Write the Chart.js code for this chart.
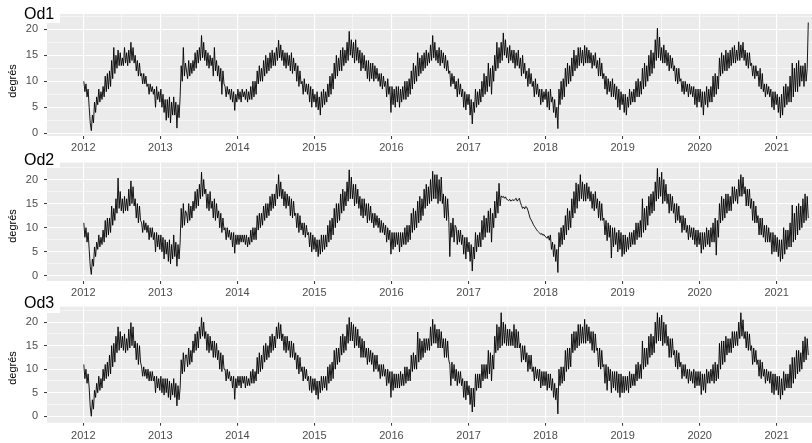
<!DOCTYPE html>
<html>
<head>
<meta charset="utf-8">
<script src="https://cdn.jsdelivr.net/npm/chart.js@4/dist/chart.umd.min.js"></script>
<style>
  html, body { margin: 0; padding: 0; background: #fff; width: 812px; height: 443px; overflow: hidden; }
  canvas { position: absolute; left: 0; }
  .box { position: absolute; left: 0; width: 60px; background: #fff; z-index: 2; }
  .ttl { position: absolute; left: 24px; font: 16px "Liberation Sans", Arial, sans-serif; line-height: 16px; color: #000; z-index: 3; white-space: nowrap; }
  .ylab { position: absolute; font: 11px "Liberation Sans", Arial, sans-serif; line-height: 11px; color: #000; white-space: nowrap;
          transform: translate(-50%, -50%) rotate(-90deg); z-index: 3; }
</style>
</head>
<body>
<canvas id="c1" width="812" height="154" style="top:0px"></canvas>
<canvas id="c2" width="812" height="149" style="top:150px"></canvas>
<canvas id="c3" width="812" height="149" style="top:294px"></canvas>

<div class="box" style="top:0px;height:23px"></div>
<div class="box" style="top:151px;height:17px"></div>
<div class="box" style="top:295px;height:18px"></div>
<div class="ttl" style="top:6px">Od1</div>
<div class="ttl" style="top:151.5px">Od2</div>
<div class="ttl" style="top:294.5px">Od3</div>
<div class="ylab" style="left:12px;top:81px">degrés</div>
<div class="ylab" style="left:12px;top:226px">degrés</div>
<div class="ylab" style="left:12px;top:368px">degrés</div>

<script>
// Water temperature (°C), six readings per month from January 2012 to May 2021.
const od1 = [
  /* 2012 */ 10,8,9.5,7,8.5,5, 2,0.5,3.5,2,6,4, 7,5.5,8.5,6,8,6.5, 9,7,11,8,11.5,8.5, 12,9,14,10.5,16.5,11.5, 15,12.5,16,13,15.5,13,
             14.5,13,16.5,13.5,15.5,13, 16,13.5,17.5,14,16.5,13.5, 15,12,14,11,13.5,11, 11.5,9.5,11.5,9.5,11,9, 9.5,7.5,9.5,8,9,7.5, 8.5,5,9,6.5,8,6,
  /* 2013 */ 8.5,5,7.5,4,6.5,2.5, 6.5,3,7,2,6,3.5, 7,3.5,6,1,5.5,3, 7,13,10,16.5,11,13.5, 12,10.5,14,11,13.5,11.5, 14,12,15.5,12.5,16,13.5,
             16.5,14,18.8,14.5,17.5,14, 16,13,15.5,12.5,15,13, 14.5,11,16.5,12,14,11, 13,10,12.5,7.5,12,9.5, 9,7,9,7.5,8.5,6.5, 8.5,6,8,4.4,7.5,6,
  /* 2014 */ 8.5,6.5,8,6,8.5,7, 8,6.5,8.5,6,8,6.5, 9,6.5,10,7,10,7.5, 12,9.5,13,10,12.5,10, 14,11,15,11.5,14.5,12, 15.5,12.5,16,13,15.5,13,
             16.5,14,17.9,14.5,17,14, 16,13,15.5,12.5,15.5,13, 15,12,15.5,11.5,14.5,12, 13.5,10,13,9,12,9.5, 10,7.5,10.5,8,9.5,7.5, 9.5,6,9,5,8.5,6,
  /* 2015 */ 7.5,5,8,4.5,7,3.5, 8,5,8.5,5.5,8,6, 9.5,7,11,7.5,11.5,8.5, 13.5,10.5,15,11,14.5,12, 16,12,16.5,13,16,13.5, 17.5,14,19.6,15,18,14.5,
             17.5,13.5,18,14,16.5,13.5, 16,12,15.5,12.5,15,12, 14,10.5,14,10,13.5,10.5, 13.5,10,13,10.5,12.5,10, 11.5,9,11.5,8.5,11,9, 10,7,10.5,7.5,9,4,
  /* 2016 */ 9,5.5,8.5,5,9,6, 9,5,8.5,6,9,6.5, 10,6.5,10,7,10.5,7.5, 12,8.5,13.5,9.5,13,10, 15.5,11,14.5,11.5,15,12, 15.5,12.5,16,13,15.5,13.5,
             17,14,18.8,14.5,17.5,14, 16,13.5,16.5,13,16,13.5, 15.5,12.5,15,12,14,11.5, 12,9,11.5,9.5,11,8.5, 10,7,10.5,7.5,9.5,7, 8.5,5,8,4.5,7.5,5.5,
  /* 2017 */ 7.5,3.5,6.5,1.8,6,4, 8.5,5,8,5.5,8.5,6, 10,7,11.5,7.5,11,8, 13.5,9,12.5,7.5,13,10, 15,12,17.5,12.5,16.5,13.5, 17.5,14,19.3,15,18,14.5,
             16.5,13.5,16.9,14,16,13.5, 16,12.5,15.5,13,16,12.5, 14.5,11,15,11.5,13.5,10.5, 12,9,12.5,9.5,11.5,9, 10,7,10.5,7.5,9.5,7, 8.5,5.5,8.5,6,8,6.5,
  /* 2018 */ 8.5,5,8,4.5,8.5,6, 7,4,6.5,3,5,0.9, 8.5,5.5,10,6.5,10.5,7, 12.5,9,13.5,9.5,13,10, 14.5,11,16,12,15,12.5, 16.5,13,16.5,13.5,16,13,
             16.9,13.5,16.5,13.5,16,13.5, 15.5,12.5,15,13,15.5,12.5, 14,11,14.5,11,13.5,10.5, 11.5,8.5,11,7.5,10.5,8, 10,7,10.5,7,9.5,6.5, 9,5,8.5,4.5,8,5.5,
  /* 2019 */ 7.5,4,7.5,3.5,7,5, 8.5,5.5,8,6,8.5,6, 10,7,10.5,7,10,7.5, 12.5,8.5,13.5,9,13,10, 15,11,16,11.5,15.5,12.5, 18,14,20.2,14.5,18.5,14,
             16.5,13.5,17,13.5,16,13, 15.5,12,15,12.5,14.5,12, 13,10,12.5,9.5,12.5,10, 10.5,8,10,7.5,10,8, 9.5,7,9.5,7.5,9,7, 9,5.5,8.5,5,8.5,6,
  /* 2020 */ 8.5,5,8,3.5,8,5.5, 9,5,8.5,6,9,6, 11,7,11.5,7.5,11,8.5, 14.5,11,15.5,11.5,15,12, 16,12,15.5,12.5,16,13, 16.5,13.5,16.9,13.5,16,14,
             17.6,14,17,14.5,17.5,14, 16,13,15.5,12.5,15.5,13, 13.5,11,13,10.5,13,11, 12,9,12.5,8.5,11.5,8, 9.5,7,9.5,7.5,9,7, 8.5,5,8,4.5,8,5.5,
  /* 2021 */ 7.5,4,7,3,7.5,3.5, 9,5,9.5,5.5,9,6, 11,6,13.5,7,12.5,8, 13.5,8,14,9,13,10, 13,9,13.5,10,12.5,21.3
];

const od2 = [
  /* 2012 */ 11,8,10,7,9,5.5, 2,0.3,3.5,2,6,4, 7,5.5,8.5,6,8,6.5, 9.5,7,11.5,8,12,8.5, 12,9,14.5,10.5,14,11.5, 16,13,20.3,14,17.5,13.5,
             16,13,16.5,13.5,16,13.5, 18,14.5,19.7,15,18.5,14.5, 16,12,15,11,14.5,11.5, 11,9,11.5,9.5,11,9, 10.5,7.5,10,8,10,7.5, 9,5,9,6,8.5,5.5,
  /* 2013 */ 8.5,5,8,3.5,7.5,4.5, 7,3,7.5,2.5,6.5,3.5, 8.5,4,7,2,6.5,3.5, 7,14,10,15,10.5,13.5, 13,11,15,11.5,14.5,12, 15.5,13.5,17.5,14,18,14.5,
             19,16,21.5,16.5,20,17, 18,14,17,13.5,17.5,14, 15.5,12,16,11.5,15,12, 13.5,10,13,9,12,9.5, 10,7.5,10,8,9.5,7.5, 9,6,9,4.7,8.5,6.5,
  /* 2014 */ 8.5,6.5,8.5,7,8.5,7, 8.5,6.5,8.5,6,8,6.5, 9.5,7,10,7.5,10,7.5, 12.5,9.5,13,10,13,10.5, 14.5,11.5,15,12,15,12.5, 16.5,13.5,17,14,17,14.5,
             19,16,21,16.5,19.5,16, 18,14.5,17.5,14,17,14.5, 16.5,12.5,16,12,15.5,12.5, 13,10,13,9,12.5,9.5, 11,8.5,11,8,10.5,8.5, 9,6,9,5,8.5,5.5,
  /* 2015 */ 8,5,7.5,4,7.5,4.5, 8.5,5,8.5,5.5,8.5,6, 10.5,7,11.5,7.5,12,8.5, 14,10,15,11,15,11.5, 17,13,18,13.5,17.5,14.5, 19.5,15.5,22,16,20.5,16,
             19,14.5,19,15,18,14, 16.5,12.5,16,12,16,12.5, 15,11,15,11.5,14.5,11, 13,10,13,10.5,12.5,10, 12,9,11.5,9,11,8.5, 10.5,7,10,7.5,9.5,4.5,
  /* 2016 */ 9,5.5,9,6,9,6.5, 9,5,9,6,9,6.5, 10,6.5,10.5,7,10.5,7.5, 13,9,14,9.5,13.5,10, 15.5,11,16.5,11.5,16,12.5, 18,14,19,14.5,18.5,15,
             20,15.5,21.7,16,21,16, 21,15,20,15.5,20.5,15, 17,12,16.5,11.5,16,12, 4,11,8,12,7,10.5, 10,6.5,9.5,7,9.5,6.5, 8.5,4.5,8,3.5,8,5,
  /* 2017 */ 7,3,6.5,1,6,3.5, 9,5,8.5,6,9,6, 11.5,7.5,12.5,8,12,9, 13.5,9,14,7,13,10, 15.5,12,17.5,13,19.2,14.5, 16.6,16.3,16.5,16.1,16.4,15.9,
             15.8,15.6,15.9,15.5,15.7,15.8, 15.6,15.9,16.1,15.5,15.8,16.1, 15.2,14.6,14.0,14.3,13.9,14.4, 14.2,13.6,12.8,12.0,11.6,11.2, 10.7,10.3,10.0,9.6,9.3,9.1, 8.9,8.6,8.8,8.4,8.6,8.2,
  /* 2018 */ 8.0,7.8,8.3,7.4,8.5,5.5, 7,4,6.5,3,5.5,0.7, 9,6,10,6.5,10.5,7.5, 12.5,8.5,14,9.5,13.5,10, 16,12,17.5,13,19.3,14, 19,15.5,21,16,19.5,15.5,
             19,15.5,19.3,16,18.5,15.5, 17.5,14,17,13.5,17.5,14, 16,12,15.5,11.5,15,11.5, 12,8.5,11.5,7.3,11,8, 10.5,3.7,10,6,10,6.5, 9,5,9.5,5.5,9,4,
  /* 2019 */ 8.5,4.5,8.5,5,8,5.5, 9,6,9,6.5,9.5,6.5, 11,7.5,11,8,11.5,8, 16,9,14,9.5,14.5,10.5, 16.5,12.5,17,13,17.5,13.5, 19.5,15.5,22.3,16,20.5,16.5,
             21.5,15,20,15.5,19,15, 17,13,17,13.5,16.5,13, 15,11,15,11.5,14.5,11, 12.5,9,12.5,9.5,12,9, 10.5,7.5,10.5,8,10,7.5, 10,6.5,9.5,6,9.5,6.5,
  /* 2020 */ 9,4.7,9,5.5,9,6, 10,6.5,9.5,6,10,7, 11,7,12,4.3,11.5,8, 15,11,16.5,11.5,16,12, 17,13,17,13.5,16.5,13.5, 18.5,15,18.5,15.5,18,15,
             20,16.5,21,16.5,20.5,17, 18.5,14.5,18,14.5,18,14, 16,11.5,15.5,11,14.5,11, 12.5,8.5,12,8.5,12,8, 10.5,7,10.5,7,10,7, 9,4.5,9,5,8.5,5,
  /* 2021 */ 8,4,7.5,3,7.5,3.5, 10,4.5,9.5,5.5,9.5,6, 11,6,14.7,7,13,7.5, 14.5,8.5,15,9.5,14.5,10, 16,11,17,11.5,16.5,12
];

const od3 = [
  /* 2012 */ 11,8,10,7,9,6, 2,0,3.5,1.5,5.5,4, 7,5,8.5,5.5,8,6, 10,7.5,11,8,11.5,8.5, 13,9,15,10.5,15.5,11.5, 17,13.5,19,14,18,14.5,
             17,14,17.5,13.5,16.5,14, 18.5,14.5,19.9,15,19,14.5, 16,12,15.5,11,15,11.5, 10.5,8.5,10.5,8.5,10,8, 10,7.5,9.5,7.5,9.5,7.5, 8.5,5,8.5,6,8,5.5,
  /* 2013 */ 8.5,5,8,4.5,8,5, 8,4,7.5,3.5,7,4.5, 8,4,7,2.2,6.5,3.5, 6,12,9,13.5,9.5,13, 13,10.5,14.5,11,14,11.5, 16,13.5,17.5,14,18,14.5,
             19,16.5,21,17,20,16.5, 18,14,17.5,13.5,17,14, 16,12.5,16,12.5,15.5,12, 14,10,13.5,9.5,13,10, 10,7.5,10,8,9.5,7.5, 8.5,6,8.5,3.6,8,6,
  /* 2014 */ 8.5,6.5,8.5,6,8.5,7, 8.5,6,8.5,6.5,8,6.5, 9.5,7,10,7,9.5,7.5, 12.5,9,13.5,9.5,13,10, 15,11.5,15.5,12,15,12.5, 17,13.5,17.5,14,17,14.5,
             19,16.5,19.9,16.5,19.5,16, 17.5,14,17,13.5,17,14, 16,12.5,16,12.5,15.5,12, 13.5,10,13,9,12.5,9.5, 10.5,7.5,10.5,8,10,7.5, 8.5,5.5,8.5,5,8,5.5,
  /* 2015 */ 8,4.5,7.5,3.6,7.5,5, 8.5,5.5,8.5,6,8.5,5.5, 10.5,7,11,7.5,11.5,8, 14,10,14.5,11,14.5,11.5, 17,13,17.5,13.5,17,14, 19.5,15.5,21,16,20,16,
             19.5,14.5,19,15,18.5,14.5, 17,12.5,16.5,12.5,16,12.5, 14.5,11,14.5,11.5,14,11, 13.5,9.5,13,10,13,9.5, 11,8,11,8.5,11,8.5, 10,6.5,10,7,9.5,4,
  /* 2016 */ 9.5,5.5,9,6,9,6, 9,6,9.5,6.5,9,6.5, 10.5,7,10.5,7.5,10,7.5, 13,9.5,13.5,10,13,10, 17.9,11.5,16.5,12,16,12.5, 16.5,13.5,16.5,14,16.5,14,
             19,15,20.6,15.5,19.5,15.5, 18.5,14.5,18.5,14.5,18,14.5, 16.5,12.5,16.5,12.5,16,12, 11,6.5,11.5,8,11,7.5, 10,6.5,9.5,7,9.5,6.5, 8,4,7.5,3.5,7.5,4.5,
  /* 2017 */ 6.5,2.5,6,0.9,6,2, 9,5.5,9,6,9,6, 11,7.5,11,8,11,8, 14,9,13.5,7.5,13,10, 17,13.5,19.5,14,19,14.5, 22,15,20,15.5,19.5,15,
             18.5,15,18.5,15,18,15, 19.5,14.5,18.5,14.5,18,14.5, 15.5,11.5,15,12,15,11.5, 13.5,9.5,13,10,13,9.5, 10.5,7.5,10.5,8,10,7.5, 10,6,9.5,6.5,9.5,6.5,
  /* 2018 */ 9.5,5.5,9,6,9,5.5, 8,4,7,3.5,6,0.5, 10,6.5,10.5,7,10.5,7.5, 14,9.5,14.5,10,14.5,10.5, 17.5,13.5,18,14,18,14.5, 19.5,15,19.5,15.5,19,15.5,
             20.6,15.5,19.5,16,19,15.5, 18,14,18,13.5,17.5,14, 14.5,10.5,14.5,10,14,10.5, 11,7,11,5.5,10.5,7.5, 10,5,9.5,6,9.5,5.5, 9.5,5,9,4,9,5,
  /* 2019 */ 8.5,5,8.5,5.5,8.5,5, 9.5,6,9,6.5,9,6.5, 11,7.5,11.5,8,11,8, 16,10,14.5,10.5,14.5,11, 17,12.5,17.5,13,17,13.5, 20,15.5,22,16,21,16,
             21.5,15,20,15.5,19.5,15, 17,12.5,16.5,12.5,16.5,13, 14,10.5,14,10,13.5,10.5, 11.5,8,11,8.5,11,8, 10,7,10,7.5,9.5,7, 10,6,9.5,6.5,9.5,6.5,
  /* 2020 */ 9.5,4.6,9,5.5,9,5, 10,7,9.5,7,10,7.5, 11,7,11.5,7.5,11,8, 15.5,10,16,11,16,11.5, 17,13,16.5,13.5,16.5,13.5, 18,14.5,18,15,18,15,
             20,16.5,22,17,20.5,16.5, 18,14.5,18,14,17.5,14, 15,11,14.5,11.5,14,11, 12,8.5,12,8,11.5,8.5, 10,7,10,7.5,9.5,7, 9.5,5,9,4.6,9,5.5,
  /* 2021 */ 8.5,4.5,8.5,3.6,8,4.5, 9.5,5.5,9,6,9,6, 11,6,12.5,7,12.5,8, 14,9,14,9.5,13.5,10, 16,11.5,16.9,12,16.5,13
];

const yearTicks = [2012, 2013, 2014, 2015, 2016, 2017, 2018, 2019, 2020, 2021];
const degreeTicks = [0, 5, 10, 15, 20];

// Time axis in decimal years; all three panels share the same window.
const X_MIN = 2011.529, X_MAX = 2021.458;
const PER_MONTH = 6;
const FONT = '"Liberation Sans", Arial, sans-serif';

// Readings are placed at evenly spaced dates inside each month.
function toPoints(vals) {
  return vals.map((v, i) => {
    const month = Math.floor(i / PER_MONTH), k = i % PER_MONTH;
    return { x: 2012 + (month + (k + 0.5) / PER_MONTH) / 12, y: v };
  });
}

const xGrid = yearTicks.flatMap(y => [y, y + 0.5]).filter(v => v >= X_MIN && v <= X_MAX);
const yGrid = degreeTicks.flatMap(d => [d, d + 2.5]);

const panelBg = {
  id: 'panelBg',
  beforeDraw(chart) {
    const { ctx, chartArea: a } = chart;
    ctx.save();
    ctx.fillStyle = '#EBEBEB';
    ctx.fillRect(a.left, a.top, a.right - a.left, a.bottom - a.top);
    ctx.restore();
  }
};

const isMajorX = v => Number.isInteger(v);
const isMajorY = v => v % 5 === 0;

function makePanel(id, values, yMin, yMax, padTop, xAxisH, xPad) {
  return new Chart(document.getElementById(id), {
    type: 'line',
    data: {
      datasets: [{
        data: toPoints(values),
        borderColor: '#000000',
        borderWidth: 0.9,
        pointRadius: 0,
        tension: 0,
        fill: false
      }]
    },
    options: {
      responsive: false,
      animation: false,
      parsing: false,
      normalized: true,
      events: [],
      layout: { padding: { top: padTop, left: 0, right: 0, bottom: 0 }, autoPadding: false },
      plugins: { legend: { display: false }, tooltip: { enabled: false }, title: { display: false } },
      scales: {
        x: {
          type: 'linear',
          min: X_MIN,
          max: X_MAX,
          afterBuildTicks: s => { s.ticks = xGrid.map(v => ({ value: v })); },
          afterFit: s => { s.height = xAxisH; },
          border: { display: false },
          grid: {
            color: '#FFFFFF',
            lineWidth: c => (c.tick && isMajorX(c.tick.value)) ? 1.1 : 0.5,
            tickColor: c => (c.tick && isMajorX(c.tick.value)) ? '#333333' : 'rgba(0,0,0,0)',
            tickLength: 3,
            tickWidth: 1
          },
          ticks: {
            autoSkip: false,
            maxRotation: 0,
            padding: xPad,
            color: '#4D4D4D',
            font: { family: FONT, size: 11 },
            callback: v => isMajorX(v) ? String(v) : ''
          }
        },
        y: {
          type: 'linear',
          min: yMin,
          max: yMax,
          afterBuildTicks: s => { s.ticks = yGrid.filter(v => v >= yMin && v <= yMax).map(v => ({ value: v })); },
          afterFit: s => { s.width = 47; },
          border: { display: false },
          grid: {
            color: '#FFFFFF',
            lineWidth: c => (c.tick && isMajorY(c.tick.value)) ? 1.1 : 0.5,
            tickColor: c => (c.tick && isMajorY(c.tick.value)) ? '#333333' : 'rgba(0,0,0,0)',
            tickLength: 3,
            tickWidth: 1
          },
          ticks: {
            autoSkip: false,
            padding: 6,
            color: '#4D4D4D',
            font: { family: FONT, size: 11 },
            callback: v => isMajorY(v) ? String(v) : ''
          }
        }
      }
    },
    plugins: [panelBg]
  });
}

makePanel('c1', od1, -0.52, 22.94, 14, 18, 2);
makePanel('c2', od2, -1.06, 23.5, 8.3, 18, 2);
makePanel('c3', od3, -1.37, 23.3, 8, 20.3, 4);
</script>
</body>
</html>
